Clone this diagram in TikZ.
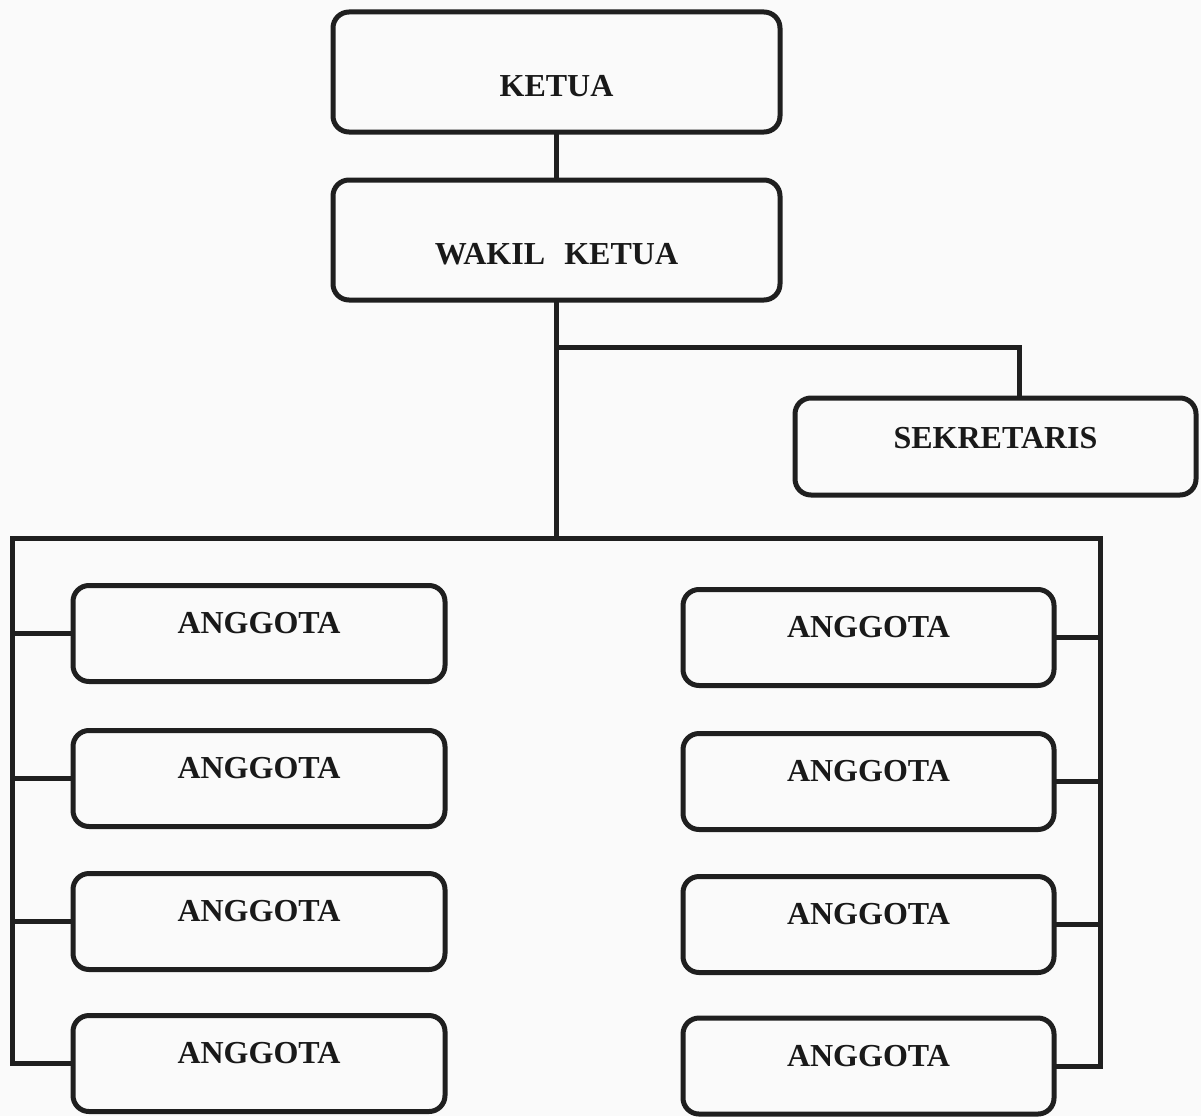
\documentclass[tikz,border=0pt]{standalone}
\usepackage{fontspec}
\setmainfont{Liberation Serif}
\begin{document}
\begin{tikzpicture}[x=1pt,y=-1pt,
  line width=5pt, draw=black!88,
  box/.style={draw=black!88, line width=5pt, rounded corners=16pt,
    inner sep=0pt, align=center, text=black!90,
    font=\fontsize{32}{38}\selectfont\bfseries},
  bigbox/.style={box, minimum width=447pt, minimum height=120pt, text height=49pt, text depth=0pt},
  sekbox/.style={box, minimum width=401pt, minimum height=97pt, text height=25pt, text depth=22pt},
  membox/.style={box, minimum width=372pt, minimum height=96pt, text height=24pt, text depth=24pt},
  conn/.style={draw=black!88, line width=5pt, line cap=rect}]
\useasboundingbox[fill=black!2] (0,0) rectangle (1201,1116);

% top boxes
\node[bigbox] (ketua) at (556.5,72) {KETUA};
\node[bigbox] (wakil) at (556.5,240) {WAKIL\hspace{0.6em}KETUA};
\node[sekbox] (sek) at (995.5,446.5) {SEKRETARIS};

% left members
\node[membox] (l1) at (259,633.5) {ANGGOTA};
\node[membox] (l2) at (259,778.5) {ANGGOTA};
\node[membox] (l3) at (259,921.5) {ANGGOTA};
\node[membox] (l4) at (259,1063.5) {ANGGOTA};

% right members
\node[membox, minimum width=371pt] (r1) at (868.5,637.5) {ANGGOTA};
\node[membox, minimum width=371pt] (r2) at (868.5,781.5) {ANGGOTA};
\node[membox, minimum width=371pt] (r3) at (868.5,924.5) {ANGGOTA};
\node[membox, minimum width=371pt] (r4) at (868.5,1066) {ANGGOTA};

% junction coordinates
\coordinate (bs) at (556.5,347);
\coordinate (js) at (1019,347);
\coordinate (jm) at (556.5,538);
\coordinate (tl) at (12,538);
\coordinate (tr) at (1100,538);

% connectors
\draw[conn] (ketua.south) -- (wakil.north);
\draw[conn] (wakil.south) -- (jm);
\draw[conn] (bs) -- (js) -- (js |- sek.north);
\draw[conn] (tl) -- (tr);
\draw[conn] (tl) -- (tl |- l4.west);
\draw[conn] (tr) -- (tr |- r4.east);
\foreach \n in {l1,l2,l3,l4} \draw[conn] (tl |- \n.west) -- (\n.west);
\foreach \n in {r1,r2,r3,r4} \draw[conn] (tr |- \n.east) -- (\n.east);
\end{tikzpicture}
\end{document}
